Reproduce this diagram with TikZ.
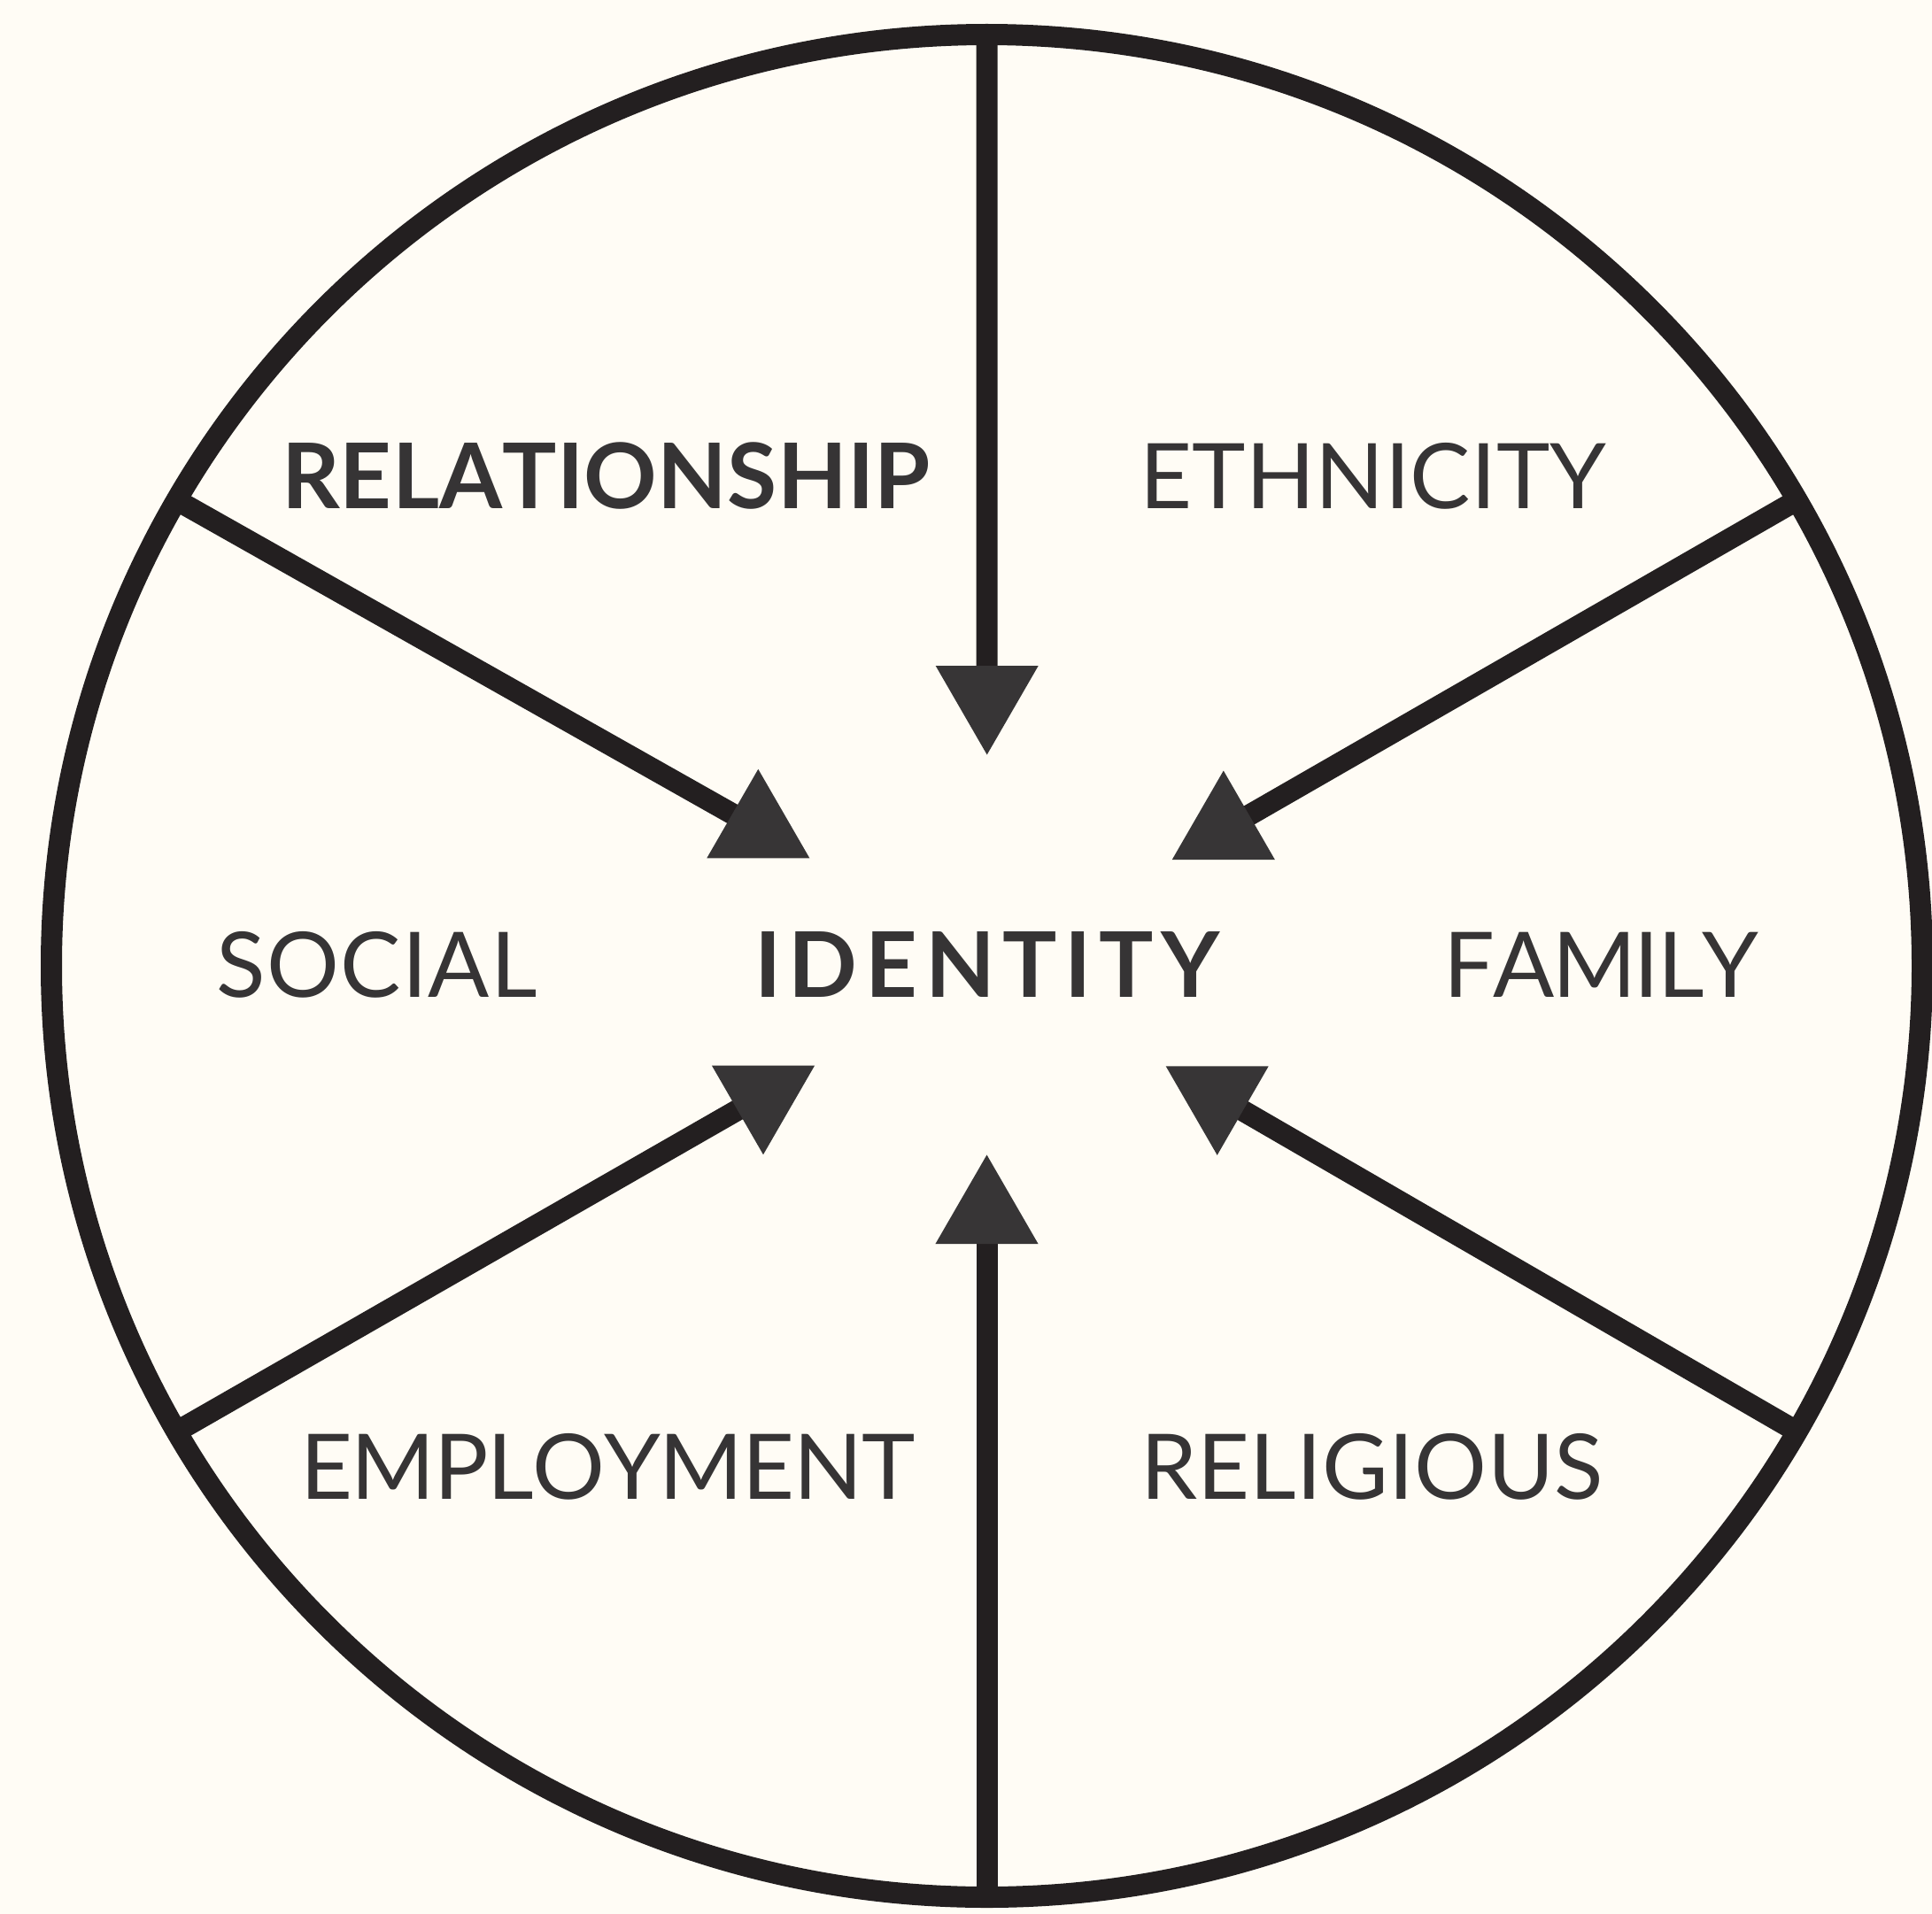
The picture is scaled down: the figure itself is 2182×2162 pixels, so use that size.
\documentclass[tikz,border=0pt]{standalone}
\usepackage{fontspec}
\setmainfont{Lato}
\usetikzlibrary{shapes.geometric,calc}
\definecolor{bgcol}{HTML}{FFFCF5}
\definecolor{linecol}{HTML}{231F20}
\definecolor{tricol}{HTML}{373536}
\definecolor{txtcol}{HTML}{363435}
\pgfdeclarelayer{bg}
\pgfsetlayers{bg,main}
\ExplSyntaxOn
\box_new:N \l_trk_box
\dim_new:N \l_trk_dim
\int_new:N \l_trk_int
\bool_new:N \l_trk_bool
\cs_new_protected:Npn \trk_spaced:nn #1#2
 {
   \bool_set_true:N \l_trk_bool
   \tl_map_inline:nn {#2}
    {
      \bool_if:NTF \l_trk_bool { \bool_set_false:N \l_trk_bool } { \tex_kern:D #1 \scan_stop: }
      ##1
    }
 }
\NewDocumentCommand \tracked { m m }
 {
   \hbox_set:Nn \l_trk_box { \trk_spaced:nn { 0pt } {#2} }
   \int_set:Nn \l_trk_int { \tl_count:n {#2} - 1 }
   \dim_set:Nn \l_trk_dim { ( #1 - \box_wd:N \l_trk_box ) / \l_trk_int }
   \trk_spaced:nn { \l_trk_dim } {#2}
 }
\ExplSyntaxOff
\tikzset{
  tri/.style={regular polygon, regular polygon sides=3, minimum size=134pt,
    inner sep=0pt, outer sep=0pt, fill=tricol, draw=none},
  triup/.style={tri},
  tridown/.style={tri, shape border rotate=180},
  spoke/.style={draw=linecol, line width=24pt, line cap=butt},
  rim/.style={draw=linecol, line width=24pt},
  lbl/.style={inner sep=0pt, outer sep=0pt, anchor=base, text=txtcol,
    font=\fontsize{102.3}{110}\selectfont},
  lblb/.style={lbl, font=\fontsize{102.3}{110}\selectfont\bfseries},
}
\begin{document}
\begin{tikzpicture}[x=1pt,y=-1pt]
\useasboundingbox (0,0) rectangle (2182,2162);
\coordinate (O) at (1114.5,1091);
\coordinate (eN)  at ($(O)+(90:1056.5pt and 1052pt)$);
\coordinate (eS)  at ($(O)+(270:1056.5pt and 1052pt)$);
\coordinate (eNE) at ($(O)+(30:1056.5pt and 1052pt)$);
\coordinate (eNW) at ($(O)+(150:1056.5pt and 1052pt)$);
\coordinate (eSW) at ($(O)+(210:1056.5pt and 1052pt)$);
\coordinate (eSE) at ($(O)+(330:1056.5pt and 1052pt)$);
% triangles
\node[tridown] (tN)  at (1114.7,785.5) {};
\node[triup]   (tS)  at (1114.5,1371.5) {};
\node[triup]   (tNW) at (856.3,935.8) {};
\node[triup]   (tNE) at (1381.8,937.5) {};
\node[tridown] (tSW) at (862,1237.2) {};
\node[tridown] (tSE) at (1374.7,1237.8) {};
% labels
\node[lblb] (relationship) at (684.5,574) {\tracked{733pt}{RELATIONSHIP}};
\node[lbl]  (ethnicity)    at (1551,574)  {\tracked{527pt}{ETHNICITY}};
\node[lbl]  (social)       at (425.8,1126) {\tracked{362pt}{SOCIAL}};
\node[lblb] (identity)     at (1115,1126) {\tracked{526pt}{IDENTITY}};
\node[lbl]  (family)       at (1808.4,1126) {\tracked{356pt}{FAMILY}};
\node[lbl]  (employment)   at (686,1693) {\tracked{694pt}{EMPLOYMENT}};
\node[lbl]  (religious)    at (1549.5,1693) {\tracked{523pt}{RELIGIOUS}};
\begin{pgfonlayer}{bg}
\fill[bgcol] (0,0) rectangle (2182,2162);
\draw[spoke] (eN) -- (tN.center);
\draw[spoke] (eS) -- (tS.center);
\draw[spoke] (eNW) -- (tNW.center);
\draw[spoke] (eNE) -- (tNE.center);
\draw[spoke] (eSW) -- (tSW.center);
\draw[spoke] (eSE) -- (tSE.center);
\draw[rim] (O) ellipse [x radius=1056.5pt, y radius=1052pt];
\end{pgfonlayer}
\end{tikzpicture}
\end{document}
